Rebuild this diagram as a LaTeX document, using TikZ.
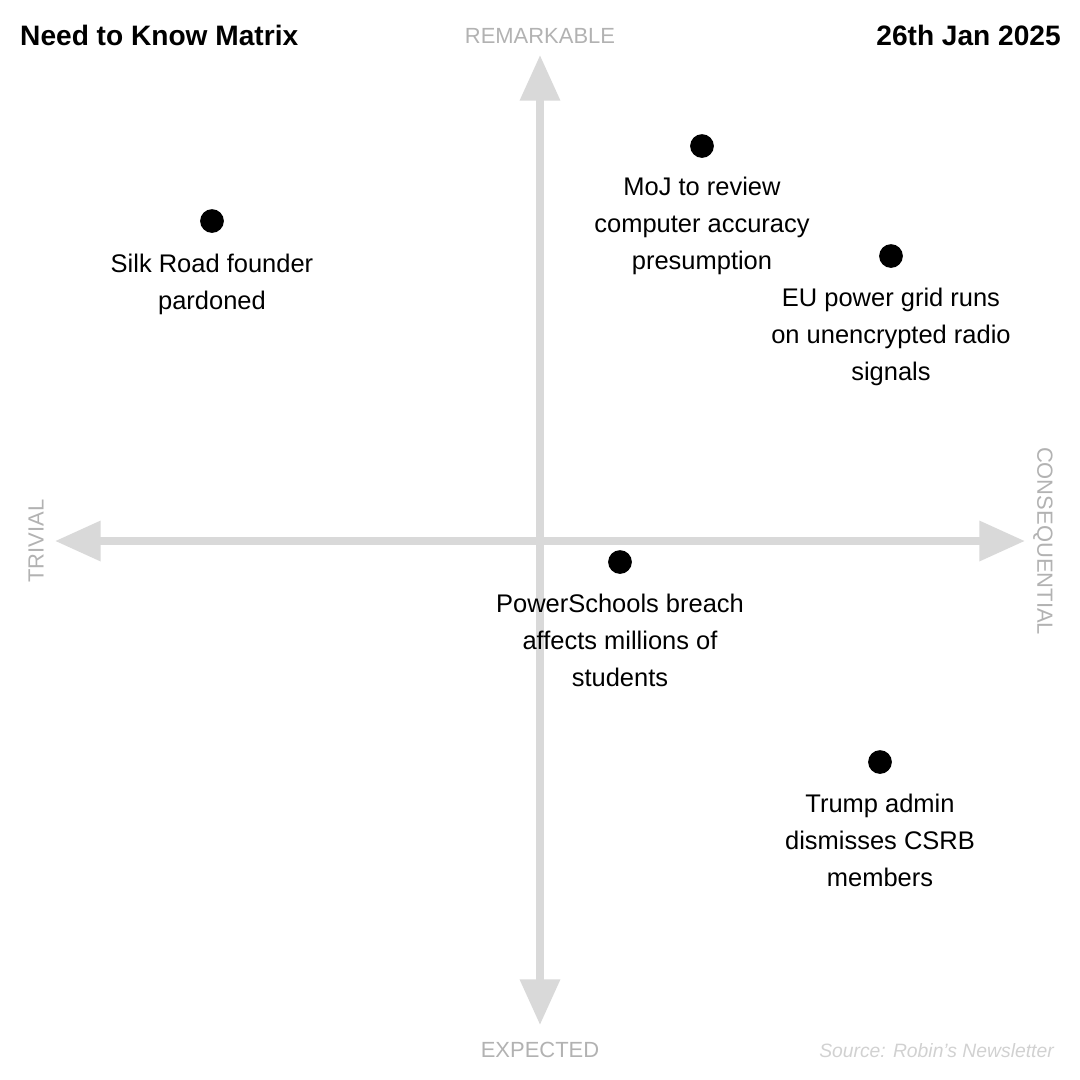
\documentclass[tikz,border=0pt]{standalone}
\usepackage{fontspec}
\setmainfont{Liberation Sans}
\usetikzlibrary{arrows.meta}
\tikzset{
  axis/.style={line width=4.5pt,draw=black!15,-{Triangle[length=26pt,width=22pt]}},
  axislabel/.style={text=black!30,font=\fontsize{12.5}{14}\selectfont},
  item/.style={circle,fill=black,inner sep=0pt,minimum size=13.5pt},
  itemlabel/.style={anchor=north,align=center,font=\fontsize{14.5}{21}\selectfont,inner sep=0pt}
}
\begin{document}
\begin{tikzpicture}[x=0.02cm,y=-0.02cm]
\useasboundingbox (0,0) rectangle (1080,1080);
% axes
\coordinate (o) at (540,541);
\coordinate (l) at (55,541);
\coordinate (r) at (1025,541);
\coordinate (t) at (540,55);
\coordinate (b) at (540,1025);
\draw[axis] (o) -- (r);
\draw[axis] (o) -- (l);
\draw[axis] (o) -- (t);
\draw[axis] (o) -- (b);
\node[axislabel] (rem) at (540,36) {REMARKABLE};
\node[axislabel] (exp) at (540,1050) {EXPECTED};
\node[axislabel,rotate=90] (triv) at (36,541) {TRIVIAL};
\node[axislabel,rotate=-90] (cons) at (1043,541) {CONSEQUENTIAL};
% titles
\node[anchor=west,font=\fontsize{16}{18}\selectfont\bfseries] (title) at (14,35) {Need to Know Matrix};
\node[anchor=east,font=\fontsize{16}{18}\selectfont\bfseries] (date) at (1067,35) {26th Jan 2025};
\node[anchor=east,text=black!18,font=\fontsize{11}{13}\selectfont\itshape] (src) at (1060,1051) {Source: Robin’s Newsletter};
% items
\node[item] (silk) at (212,221) {};
\node[itemlabel] at (212,254) {Silk Road founder\\pardoned};
\node[item] (moj) at (702,146) {};
\node[itemlabel] at (702,177) {MoJ to review\\computer accuracy\\presumption};
\node[item] (eu) at (891,256) {};
\node[itemlabel] at (891,288) {EU power grid runs\\on unencrypted radio\\signals};
\node[item] (ps) at (620,562) {};
\node[itemlabel] at (620,594) {PowerSchools breach\\affects millions of\\students};
\node[item] (trump) at (880,762) {};
\node[itemlabel] at (880,794) {Trump admin\\dismisses CSRB\\members};
\end{tikzpicture}
\end{document}
